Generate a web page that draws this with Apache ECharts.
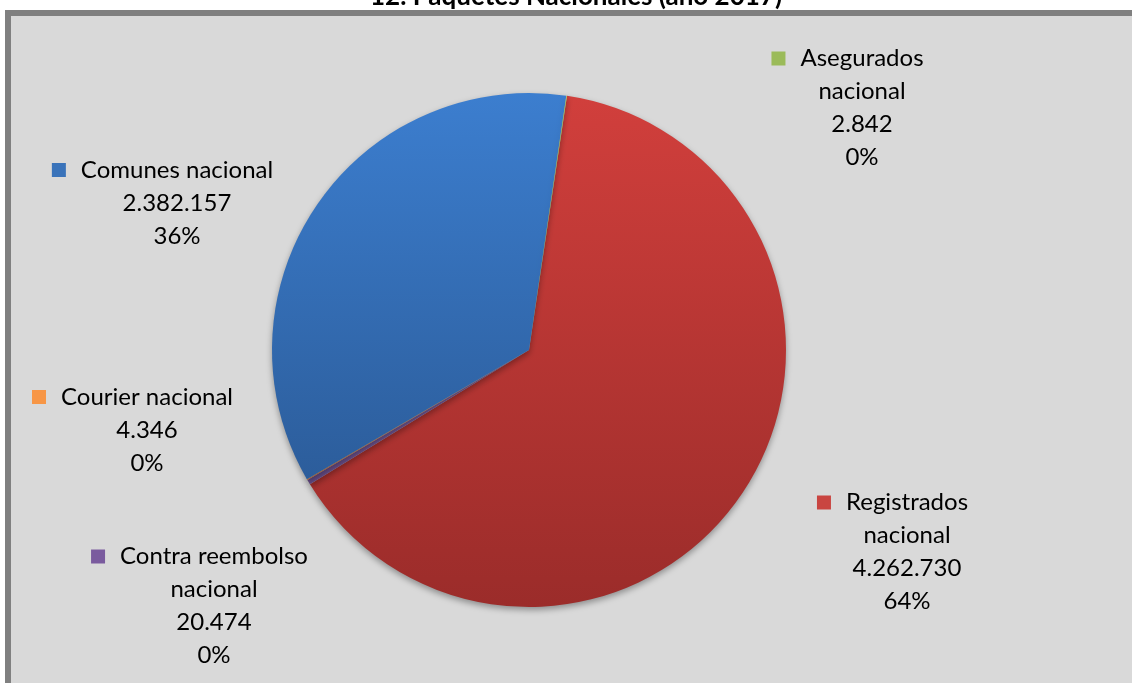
<!DOCTYPE html>
<html>
<head>
<meta charset="utf-8">
<title>Paquetes Nacionales</title>
<script src="https://cdn.jsdelivr.net/npm/echarts@6/dist/echarts.min.js"></script>
<style>
  html, body { margin: 0; padding: 0; background: #fff; }
  #chart { width: 1132px; height: 683px; }
</style>
</head>
<body>
<div id="chart"></div>
<script>
// datos (orden en sentido horario desde arriba)
var categories = ['Registrados\nnacional', 'Contra reembolso\nnacional', 'Courier nacional', 'Comunes nacional', 'Asegurados\nnacional'];
var values = [4262730, 20474, 4346, 2382157, 2842];
var colorsTop = ['#d13f3c', '#8466a8', '#f99a50', '#3c7ecf', '#a2c25e'];
var colorsBottom = ['#9b2c2a', '#654a85', '#d9793a', '#2c5d9b', '#7d9a44'];
var keyColors = ['#c94541', '#7a5b9e', '#f79646', '#3a73ba', '#9bbb59'];
// posición de cada etiqueta (centro del bloque de texto)
var labelPos = [[907, 552], [214, 606], [147, 430], [177, 203], [862, 108]];

function fmt(v) {
  return String(v).replace(/\B(?=(\d{3})+(?!\d))/g, '.');
}

var chart = echarts.init(document.getElementById('chart'));

var rich = {
  g: { width: 15 },
  p: { width: 29 }
};
var pieData = categories.map(function (name, i) {
  rich['sq' + i] = { width: 14, height: 14, backgroundColor: keyColors[i] };
  return {
    name: name,
    value: values[i],
    itemStyle: {
      color: new echarts.graphic.LinearGradient(0, 0, 0, 1, [
        { offset: 0, color: colorsTop[i] },
        { offset: 1, color: colorsBottom[i] }
      ])
    }
  };
});

var option = {
  backgroundColor: '#fff',
  animation: false,
  title: {
    text: '12. Paquetes Nacionales (año 2017)',
    left: 571,
    textAlign: 'center',
    top: -21,
    textStyle: { fontFamily: 'Lato', fontWeight: 'bold', fontSize: 26, color: '#000' }
  },
  graphic: [{
    type: 'rect',
    z: -10,
    shape: { x: 8, y: 13, width: 1200, height: 800 },
    style: { fill: '#d9d9d9', stroke: '#808080', lineWidth: 6 }
  }],
  series: [{
    type: 'pie',
    center: [529, 350],
    radius: 257,
    startAngle: 81.5,
    clockwise: true,
    avoidLabelOverlap: false,
    data: pieData,
    itemStyle: {
      borderWidth: 0,
      shadowBlur: 6,
      shadowOffsetY: 3,
      shadowColor: 'rgba(0,0,0,0.35)'
    },
    emphasis: { disabled: true },
    labelLine: { show: false },
    label: {
      show: true,
      position: 'outside',
      fontFamily: 'Lato',
      fontSize: 24,
      lineHeight: 33,
      color: '#000',
      align: 'center',
      rich: rich,
      formatter: function (p) {
        var lines = p.name.split('\n');
        var first = '{sq' + p.dataIndex + '|}{g|}' + lines[0] + '{p|}';
        var rest = lines.slice(1);
        rest.push(fmt(p.value));
        rest.push(Math.round(p.percent) + '%');
        return first + '\n' + rest.join('\n');
      }
    },
    labelLayout: function (params) {
      var pos = labelPos[params.dataIndex];
      return { x: pos[0], y: pos[1], align: 'center', verticalAlign: 'middle' };
    }
  }]
};

chart.setOption(option);
</script>
</body>
</html>
